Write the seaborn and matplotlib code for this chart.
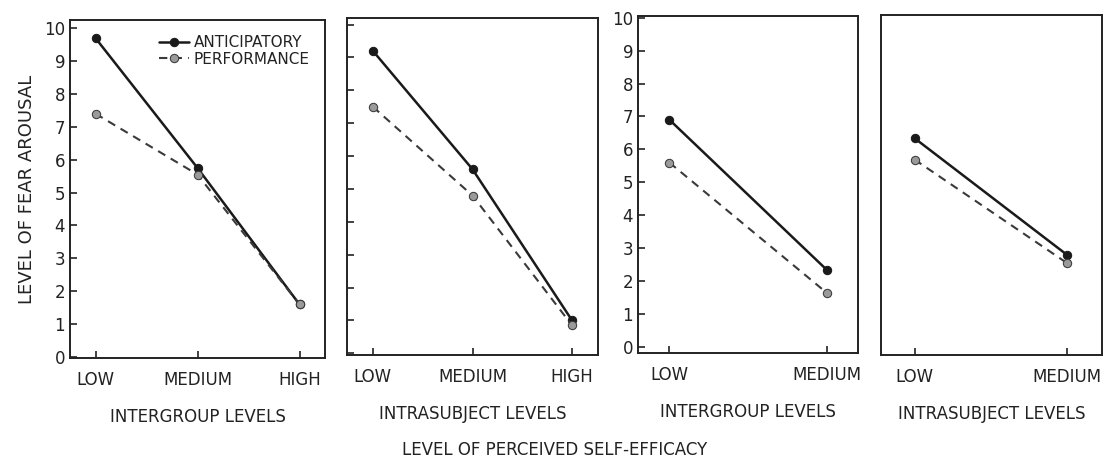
import pandas as pd
import seaborn as sns
import matplotlib
import matplotlib.pyplot as plt

matplotlib.use("Agg")

# panel contents
LEVELS_3 = ["LOW", "MEDIUM", "HIGH"]
LEVELS_2 = ["LOW", "MEDIUM"]
PANEL_TITLES = ["INTERGROUP LEVELS", "INTRASUBJECT LEVELS",
                "INTERGROUP LEVELS", "INTRASUBJECT LEVELS"]

ANTICIPATORY_1 = [9.7, 5.75, 1.6]
PERFORMANCE_1 = [7.4, 5.55, 1.6]
ANTICIPATORY_2 = [9.2, 5.6, 1.0]
PERFORMANCE_2 = [7.5, 4.8, 0.85]
ANTICIPATORY_3 = [6.9, 2.35]
PERFORMANCE_3 = [5.6, 1.65]
ANTICIPATORY_4 = [6.35, 2.8]
PERFORMANCE_4 = [5.7, 2.55]

Y_TICKS = list(range(0, 11))


def make_df(levels, anticipatory, performance):
    rows = []
    for lev, a, p in zip(levels, anticipatory, performance):
        rows.append({"level": lev, "arousal": a, "measure": "ANTICIPATORY"})
        rows.append({"level": lev, "arousal": p, "measure": "PERFORMANCE"})
    return pd.DataFrame(rows)


def draw_panel(ax, df, xlim, ylim):
    ant = df[df["measure"] == "ANTICIPATORY"]
    perf = df[df["measure"] == "PERFORMANCE"]
    sns.lineplot(data=ant, x="level", y="arousal", ax=ax, color="#1a1a1a",
                 lw=1.8, marker="o", ms=6, mfc="#1a1a1a", mec="#1a1a1a",
                 label="ANTICIPATORY", sort=False)
    sns.lineplot(data=perf, x="level", y="arousal", ax=ax, color="#3a3a3a",
                 lw=1.5, ls=(0, (4, 3)), marker="o", ms=6, mfc="#9a9a9a",
                 mec="#3a3a3a", label="PERFORMANCE", sort=False)
    ax.set_xlim(*xlim)
    ax.set_ylim(*ylim)
    ax.set_xlabel("")
    ax.set_ylabel("")
    for s in ax.spines.values():
        s.set_visible(True)
        s.set_linewidth(1.4)
        s.set_color("#222222")
    ax.tick_params(bottom=True, left=True, direction="in", length=5,
                   width=1.2, colors="#222222", labelsize=12,
                   labelcolor="#222222")
    ax.tick_params(axis="x", pad=9)
    ax.set_yticks(Y_TICKS)


def main():
    sns.set_style("white")
    plt.rcParams["font.family"] = ["Liberation Sans Narrow", "DejaVu Sans"]

    fig = plt.figure(figsize=(11.1, 4.65), dpi=100)
    W, H = 1110, 465

    def box(x0, x1, y0, y1):
        return [x0 / W, 1 - y1 / H, (x1 - x0) / W, (y1 - y0) / H]

    ax1 = fig.add_axes(box(70, 325, 20, 358))
    ax2 = fig.add_axes(box(347, 598, 18, 355))
    ax3 = fig.add_axes(box(638, 858, 16, 353))
    ax4 = fig.add_axes(box(881, 1102, 15, 355))

    draw_panel(ax1, make_df(LEVELS_3, ANTICIPATORY_1, PERFORMANCE_1),
               (-0.25, 2.25), (-0.03, 10.25))
    draw_panel(ax2, make_df(LEVELS_3, ANTICIPATORY_2, PERFORMANCE_2),
               (-0.26, 2.26), (-0.05, 10.2))
    draw_panel(ax3, make_df(LEVELS_2, ANTICIPATORY_3, PERFORMANCE_3),
               (-0.2, 1.2), (-0.18, 10.05))
    draw_panel(ax4, make_df(LEVELS_2, ANTICIPATORY_4, PERFORMANCE_4),
               (-0.22, 1.23), (-0.25, 10.1))

    ax2.set_yticklabels([])
    ax4.set_yticks([])

    for ax, title in zip([ax1, ax2, ax3, ax4], PANEL_TITLES):
        ax.set_xlabel(title, fontsize=12, labelpad=14, color="#222222")
        if ax is not ax1:
            ax.get_legend().remove()

    ax1.set_ylabel("LEVEL OF FEAR AROUSAL", fontsize=13, color="#222222",
                   labelpad=6)
    leg = ax1.legend(loc="upper right", frameon=False, fontsize=11,
                     handlelength=2.0, handletextpad=0.3, labelspacing=0.1,
                     borderaxespad=0.6)
    for t in leg.get_texts():
        t.set_color("#222222")

    fig.text(0.5, 1 - 450 / H, "LEVEL OF PERCEIVED SELF-EFFICACY",
             ha="center", va="center", fontsize=12, color="#222222")

    fig.savefig("out.png", dpi=100, facecolor="white")


if __name__ == "__main__":
    main()
